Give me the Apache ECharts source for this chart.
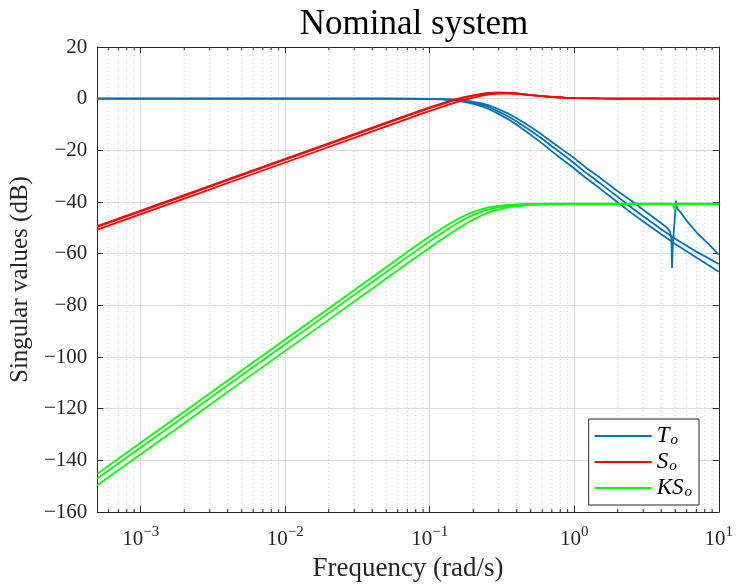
<!DOCTYPE html>
<html>
<head>
<meta charset="utf-8">
<title>Nominal system</title>
<script src="https://cdn.jsdelivr.net/npm/echarts@6/dist/echarts.min.js"></script>
<style>
  html, body { margin: 0; padding: 0; background: #fff; }
  #chart { width: 736px; height: 587px; }
</style>
</head>
<body>
<div id="chart"></div>
<script>
// 频率 (rad/s) 与奇异值 (dB)
const freqS = [5e-4, 1e-3, 2e-3, 5e-3, 0.01, 0.02, 0.05, 0.07, 0.09, 0.11, 0.13, 0.15, 0.17, 0.2, 0.23, 0.26, 0.3, 0.35, 0.4, 0.5, 0.6, 0.7, 0.85, 1, 1.5, 2, 5, 10];
const magS1 = [-49.3, -43.3, -37.3, -29.3, -23.3, -17.3, -9.3, -6.4, -4.2, -2.6, -1.3, -0.3, 0.5, 1.3, 1.9, 2.2, 2.3, 2.2, 2.0, 1.4, 0.95, 0.65, 0.4, 0.25, 0.1, 0.05, 0, 0];
const magS2 = [-49.6, -43.6, -37.6, -29.6, -23.6, -17.6, -9.6, -6.7, -4.5, -2.9, -1.6, -0.5, 0.3, 1.2, 1.8, 2.2, 2.3, 2.2, 2.0, 1.4, 0.95, 0.65, 0.4, 0.25, 0.1, 0.05, 0, 0];
const magS3 = [-50.7, -44.7, -38.7, -30.7, -24.7, -18.7, -10.7, -7.8, -5.6, -4.0, -2.6, -1.5, -0.6, 0.4, 1.2, 1.7, 2.0, 2.05, 1.9, 1.4, 0.95, 0.65, 0.4, 0.25, 0.1, 0.05, 0, 0];

const freqK = [5e-4, 1e-3, 2e-3, 5e-3, 0.01, 0.02, 0.05, 0.08, 0.1, 0.12, 0.14, 0.16, 0.18, 0.2, 0.23, 0.26, 0.3, 0.35, 0.4, 0.5, 0.7, 1, 2, 4.8, 4.95, 5.05, 10];
const magK1 = [-145.2, -133.2, -121.2, -105.2, -93.2, -81.2, -65.2, -57.0, -53.3, -50.4, -48.1, -46.3, -44.9, -43.8, -42.7, -42.0, -41.5, -41.1, -40.9, -40.7, -40.6, -40.6, -40.6, -40.6, -43.0, -40.6, -40.6];
const magK2 = [-147.0, -135.0, -123.0, -107.0, -95.0, -83.0, -67.1, -59.0, -55.2, -52.2, -49.8, -47.8, -46.2, -45.0, -43.6, -42.7, -42.0, -41.4, -41.1, -40.9, -40.75, -40.7, -40.7, -40.7, -40.7, -40.7, -40.7];
const magK3 = [-149.6, -137.6, -125.6, -109.6, -97.6, -85.6, -69.6, -61.5, -57.7, -54.6, -52.1, -50.0, -48.2, -46.8, -45.1, -43.9, -42.8, -42.0, -41.55, -41.1, -40.9, -40.8, -40.8, -40.8, -40.8, -40.8, -40.8];

const freqT = [5e-4, 0.01, 0.05, 0.08, 0.1, 0.12, 0.14, 0.16, 0.18, 0.2, 0.23, 0.26, 0.3, 0.35, 0.4, 0.5, 0.6, 0.7, 0.85, 1, 1.2, 1.5, 2, 2.5, 3, 4, 5, 7, 10];
const magT2 = [0, 0, 0, -0.05, -0.1, -0.2, -0.4, -0.7, -1.1, -1.6, -2.4, -3.4, -5.0, -6.9, -8.8, -12.4, -15.5, -18.4, -21.9, -25.0, -28.6, -32.6, -38.0, -42.2, -45.5, -50.5, -54.2, -59.2, -64.0];
const magT3 = [0, 0, 0, -0.05, -0.15, -0.3, -0.55, -0.9, -1.4, -2.0, -3.0, -4.2, -5.9, -8.0, -10.1, -14.0, -17.3, -20.4, -24.0, -27.0, -30.6, -34.7, -40.2, -44.3, -47.5, -52.5, -56.2, -61.5, -67.0];

const freqT1 = [5e-4, 0.01, 0.05, 0.08, 0.1, 0.12, 0.14, 0.16, 0.18, 0.2, 0.23, 0.26, 0.3, 0.35, 0.4, 0.5, 0.6, 0.7, 0.85, 1, 1.2, 1.5, 2, 2.5, 3, 4, 4.4, 4.6, 4.7, 4.75, 4.8, 4.9, 5.0, 5.04, 5.1, 5.2, 5.42, 6.03, 7.06, 8.71, 10];
const magT1 = [0, 0, 0, -0.03, -0.08, -0.15, -0.3, -0.5, -0.8, -1.2, -1.8, -2.7, -4.1, -5.8, -7.6, -11.0, -14.0, -16.8, -20.2, -23.0, -26.6, -30.5, -35.8, -39.6, -43.0, -48.2, -50.0, -51.5, -54.0, -65.5, -58.0, -50.5, -44.0, -39.5, -41.5, -42.8, -43.8, -47.4, -51.9, -56.9, -60.4];

const yTicks = { min: -160, max: 20, step: 20 };
const xRange = { min: 5e-4, max: 10 };

const SERIF = 'Liberation Serif';
const AXIS_COLOR = '#262626';

function pairs(fs, ms) {
    return fs.map((f, i) => [f, ms[i]]);
}

// 2..9 × 10^k 的位置（次网格线、次刻度）
function minorFreqs() {
    const out = [];
    for (let d = -4; d <= 0; d++) {
        for (let k = 2; k <= 9; k++) {
            const f = k * Math.pow(10, d);
            if (f > xRange.min && f < xRange.max) out.push(f);
        }
    }
    return out;
}

// 断开的竖线段：每个位置从 y0 到 y1
function segments(y0, y1) {
    const pts = [];
    minorFreqs().forEach(f => {
        pts.push([f, y0], [f, y1], [f, '-']);
    });
    return pts;
}

function lineSeries(name, color, data) {
    return {
        name: name,
        type: 'line',
        data: data,
        showSymbol: false,
        symbol: 'none',
        smooth: false,
        lineStyle: { color: color, width: 1.8 },
        itemStyle: { color: color },
        animation: false,
        z: 3
    };
}

function decoSeries(name, data, lineStyle, z) {
    return {
        name: name,
        type: 'line',
        data: data,
        silent: true,
        showSymbol: false,
        symbol: 'none',
        connectNulls: false,
        lineStyle: lineStyle,
        animation: false,
        z: z
    };
}

function superLabel(value) {
    const lg = Math.log10(value);
    const e = Math.round(lg);
    if (Math.abs(lg - e) > 0.01) return '';
    const exp = e < 0 ? '\u2212' + Math.abs(e) : String(e);
    return '{b|10}{s|' + exp + '}';
}

const chart = echarts.init(document.getElementById('chart'));

const blue = '#0072BD', red = '#FF0000', green = '#00FF00';

const series = [
    decoSeries('minor-grid', segments(yTicks.min, yTicks.max), { color: '#c8c8c8', width: 1, type: [1, 3] }, 1),
    decoSeries('minor-tick-bottom', segments(yTicks.min, yTicks.min + 1.2), { color: AXIS_COLOR, width: 1 }, 4),
    decoSeries('minor-tick-top', segments(yTicks.max, yTicks.max - 1.2), { color: AXIS_COLOR, width: 1 }, 4),
    lineSeries('T', blue, pairs(freqT1, magT1)),
    lineSeries('T', blue, pairs(freqT, magT2)),
    lineSeries('T', blue, pairs(freqT, magT3)),
    lineSeries('S', red, pairs(freqS, magS1)),
    lineSeries('S', red, pairs(freqS, magS2)),
    lineSeries('S', red, pairs(freqS, magS3)),
    lineSeries('KS', green, pairs(freqK, magK1)),
    lineSeries('KS', green, pairs(freqK, magK2)),
    lineSeries('KS', green, pairs(freqK, magK3))
];

const option = {
    backgroundColor: '#ffffff',
    animation: false,
    title: {
        text: 'Nominal system',
        left: 409,
        top: 2,
        textAlign: 'center',
        textStyle: { fontFamily: SERIF, fontSize: 35, fontWeight: 'normal', color: '#000' }
    },
    grid: { left: 97, right: 14, top: 47, bottom: 69 },
    legend: {
        orient: 'vertical',
        right: 37,
        top: 419,
        data: ['T', 'S', 'KS'],
        icon: 'rect',
        backgroundColor: '#fff',
        borderColor: AXIS_COLOR,
        borderWidth: 1,
        borderRadius: 0,
        padding: [5, 7, 5, 6],
        itemGap: 2,
        itemWidth: 57,
        itemHeight: 2,
        formatter: function(name) {
            return '{i|' + name + '}{sub|o}';
        },
        textStyle: {
            fontFamily: SERIF,
            fontSize: 20,
            color: '#000',
            rich: {
                i: { fontFamily: SERIF, fontStyle: 'italic', fontSize: 23, color: '#000', lineHeight: 23 },
                sub: { fontFamily: SERIF, fontStyle: 'italic', fontSize: 15, color: '#000', padding: [9, 0, 0, 1], lineHeight: 23 }
            }
        }
    },
    xAxis: [
        {
            type: 'log',
            logBase: 10,
            min: xRange.min,
            max: xRange.max,
            position: 'bottom',
            name: 'Frequency (rad/s)',
            nameLocation: 'middle',
            nameGap: 41,
            nameTextStyle: { fontFamily: SERIF, fontSize: 27, color: '#262626' },
            axisLine: { show: true, onZero: false, lineStyle: { color: AXIS_COLOR, width: 1 } },
            axisTick: { show: true, inside: true, length: 6, lineStyle: { color: AXIS_COLOR } },
            axisLabel: {
                showMinLabel: false,
                margin: 9,
                formatter: superLabel,
                rich: {
                    b: { fontFamily: SERIF, fontSize: 21, color: '#262626', padding: [8, 0, 0, 0] },
                    s: { fontFamily: SERIF, fontSize: 15, color: '#262626', padding: [0, 0, 8, 0] }
                }
            },
            splitLine: { show: true, lineStyle: { color: '#dcdcdc', width: 1 } }
        },
        {
            type: 'log',
            logBase: 10,
            min: xRange.min,
            max: xRange.max,
            position: 'top',
            axisLine: { show: true, onZero: false, lineStyle: { color: AXIS_COLOR, width: 1 } },
            axisTick: { show: true, inside: true, length: 6, lineStyle: { color: AXIS_COLOR } },
            axisLabel: { show: false },
            splitLine: { show: false }
        }
    ],
    yAxis: [
        {
            type: 'value',
            min: yTicks.min,
            max: yTicks.max,
            interval: yTicks.step,
            position: 'left',
            name: 'Singular values (dB)',
            nameLocation: 'middle',
            nameGap: 59,
            nameTextStyle: { fontFamily: SERIF, fontSize: 25, color: '#262626' },
            axisLine: { show: true, onZero: false, lineStyle: { color: AXIS_COLOR, width: 1 } },
            axisTick: { show: true, inside: true, length: 6, lineStyle: { color: AXIS_COLOR } },
            axisLabel: {
                margin: 10,
                fontFamily: SERIF,
                fontSize: 21,
                color: '#262626',
                formatter: function(v) { return v < 0 ? '\u2212' + Math.abs(v) : String(v); }
            },
            splitLine: { show: true, lineStyle: { color: '#dcdcdc', width: 1 } }
        },
        {
            type: 'value',
            min: yTicks.min,
            max: yTicks.max,
            interval: yTicks.step,
            position: 'right',
            axisLine: { show: true, onZero: false, lineStyle: { color: AXIS_COLOR, width: 1 } },
            axisTick: { show: true, inside: true, length: 6, lineStyle: { color: AXIS_COLOR } },
            axisLabel: { show: false },
            splitLine: { show: false }
        }
    ],
    series: series
};

chart.setOption(option);
</script>
</body>
</html>
